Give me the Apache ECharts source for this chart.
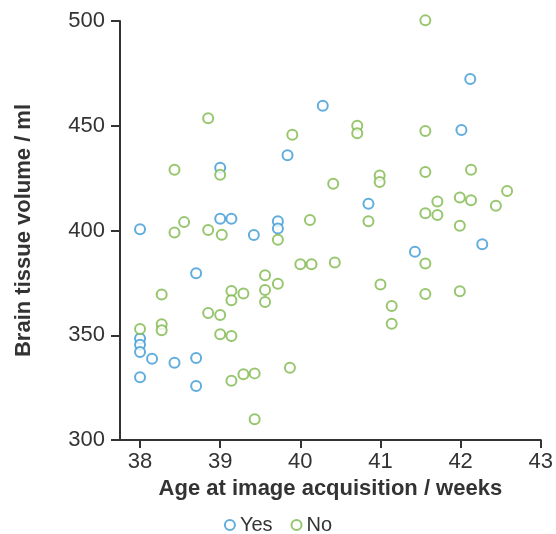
<!DOCTYPE html>
<html>
<head>
<meta charset="utf-8">
<script src="https://cdn.jsdelivr.net/npm/echarts@6/dist/echarts.min.js"></script>
<style>html,body{margin:0;padding:0;background:#fff;}#c{width:556px;height:534px;}</style>
</head>
<body>
<div id="c"></div>
<script>
var xTicks = [38, 39, 40, 41, 42, 43];
var yesX = [40.28, 39.84, 39.0, 39.0, 39.14, 39.72, 39.72, 38.0, 39.42, 38.70, 38.0, 38.0, 38.0, 38.15, 38.43, 38.70, 38.0, 38.70, 42.12, 42.01, 40.85, 42.27, 41.43];
var yesY = [459.6, 435.9, 430, 405.6, 405.6, 404.4, 401, 400.6, 397.9, 379.6, 348.5, 345.5, 342, 338.8, 336.9, 339.1, 329.9, 325.8, 472.3, 448, 412.8, 393.4, 389.9];
var noX = [38.85, 39.90, 38.43, 39.0, 40.41, 38.55, 40.12, 38.43, 38.85, 39.02, 39.72, 40.0, 40.14, 40.43, 38.27, 39.56, 39.56, 39.72, 39.56, 39.14, 39.14, 39.29, 38.85, 39.0, 38.0, 38.27, 38.27, 39.0, 39.14, 39.14, 39.29, 39.43, 39.87, 39.43, 41.56, 40.71, 40.71, 41.56, 40.99, 40.99, 41.56, 42.13, 42.58, 41.71, 41.99, 42.13, 42.44, 41.56, 41.71, 40.85, 41.99, 41.56, 41.0, 41.56, 41.99, 41.14, 41.14];
var noY = [453.6, 445.7, 429, 426.6, 422.3, 404, 405, 399, 400.2, 398, 395.6, 383.9, 383.9, 384.7, 369.5, 378.6, 371.6, 374.6, 365.9, 371.1, 366.7, 369.9, 360.6, 359.7, 353, 355.2, 352.4, 350.5, 349.6, 328.3, 331.4, 331.8, 334.5, 309.9, 500.3, 450, 446.4, 447.5, 426.3, 423.2, 427.9, 429, 418.9, 413.8, 415.7, 414.4, 411.8, 408.2, 407.4, 404.4, 402.3, 384.2, 374.2, 369.7, 371.0, 364.0, 355.5];

function pairs(xs, ys) { return xs.map(function (x, i) { return [x, ys[i]]; }); }

var font = 'Liberation Sans, Arial, Helvetica, sans-serif';
var axisColor = '#333';
var chart = echarts.init(document.getElementById('c'), null, {renderer: 'canvas'});
chart.setOption({
  animation: false,
  backgroundColor: '#fff',
  textStyle: {fontFamily: font},
  grid: {left: 120, right: 12, top: 21, bottom: 94, containLabel: false},
  legend: {
    bottom: -6,
    left: 'center',
    itemWidth: 10,
    itemHeight: 10,
    itemGap: 18,
    textStyle: {fontSize: 20, color: '#333', fontFamily: font},
    data: [{name: 'Yes', icon: 'emptyCircle'}, {name: 'No', icon: 'emptyCircle'}]
  },
  xAxis: {
    type: 'value',
    min: 37.75,
    max: 43,
    name: 'Age at image acquisition / weeks',
    nameLocation: 'middle',
    nameGap: 36,
    nameTextStyle: {fontSize: 22, fontWeight: 'bold', color: '#333', fontFamily: font},
    axisLine: {show: true, lineStyle: {color: axisColor, width: 2}},
    axisTick: {show: true, length: 8, lineStyle: {color: axisColor, width: 2}, customValues: xTicks},
    axisLabel: {fontSize: 22, color: '#333', margin: 11, customValues: xTicks, fontFamily: font},
    splitLine: {show: false}
  },
  yAxis: {
    type: 'value',
    min: 300,
    max: 500,
    interval: 50,
    name: 'Brain tissue volume / ml',
    nameLocation: 'middle',
    nameGap: 85,
    nameTextStyle: {fontSize: 22, fontWeight: 'bold', color: '#333', fontFamily: font},
    axisLine: {show: true, lineStyle: {color: axisColor, width: 2}},
    axisTick: {show: true, length: 9, lineStyle: {color: axisColor, width: 2}},
    axisLabel: {fontSize: 22, color: '#333', margin: 15, fontFamily: font},
    splitLine: {show: false}
  },
  series: [
    {
      name: 'Yes', type: 'scatter', symbol: 'emptyCircle', symbolSize: 10, clip: false,
      itemStyle: {color: '#3a98d4', borderColor: '#3a98d4', borderWidth: 1.8},
      data: pairs(yesX, yesY)
    },
    {
      name: 'No', type: 'scatter', symbol: 'emptyCircle', symbolSize: 10, clip: false,
      itemStyle: {color: '#7db84a', borderColor: '#7db84a', borderWidth: 1.8},
      data: pairs(noX, noY)
    }
  ]
});
</script>
</body>
</html>
